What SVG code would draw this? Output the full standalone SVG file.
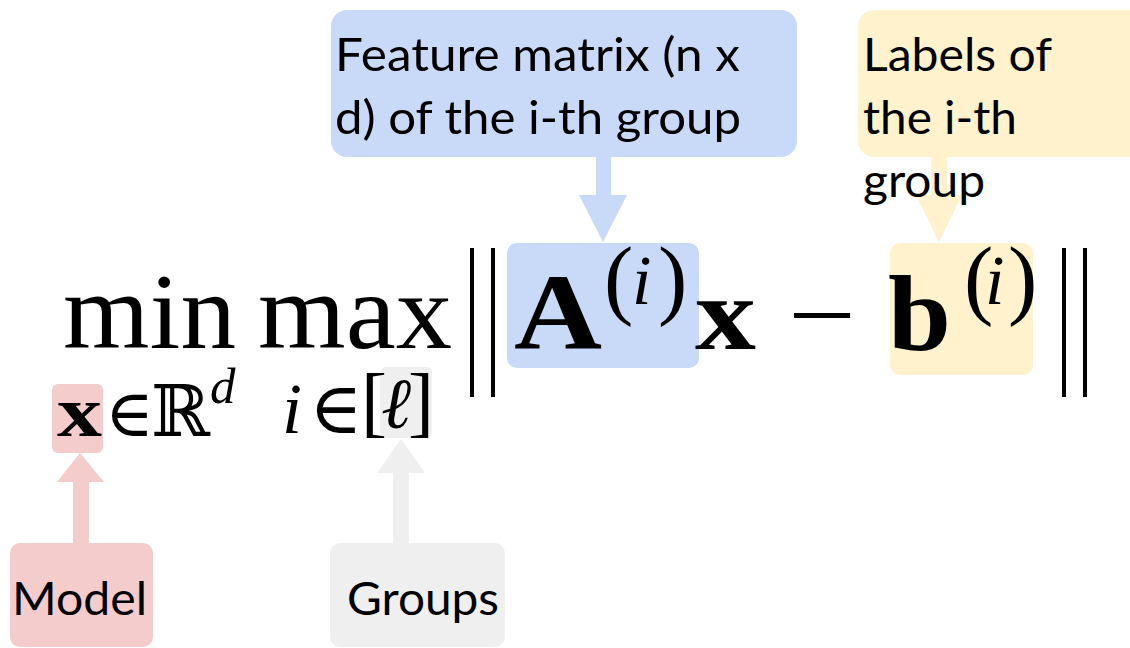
<svg xmlns="http://www.w3.org/2000/svg" width="1130" height="648" viewBox="0 0 1130 648">
<style>
.lbl{font-family:Lato,"Open Sans","Noto Sans",sans-serif;font-size:47px;fill:#000}
.m{font-family:"Liberation Serif","DejaVu Serif",serif;fill:#000}
.mb{font-weight:bold}
.mi{font-style:italic}
.bb{font-family:"DejaVu Serif","DejaVu Sans",serif}
.blue{fill:#c9daf8}.yellow{fill:#fff2cc}.red{fill:#f4cccc}.gray{fill:#efefef}
.bar{stroke:#000;stroke-width:4}
</style>
<rect width="1130" height="648" fill="#fff"/>
<g id="highlights">
<rect class="blue" x="507" y="243" width="192" height="125" rx="10"/>
<rect class="yellow" x="890" y="243" width="143" height="132" rx="10"/>
<rect class="red" x="52" y="384" width="51" height="69" rx="6"/>
<rect class="gray" x="380" y="367" width="52" height="71" rx="6"/>
</g>
<g id="connectors">
<polygon class="blue" points="596,156 611,156 611,195 627,195 603,242 579,195 596,195"/>
<polygon class="yellow" points="931,156 947,156 947,195 962,195 939,242 916,195 931,195"/>
<polygon class="red" points="73,544 89,544 89,482 104,482 80,453 57,482 73,482"/>
<polygon class="gray" points="393,544 409,544 409,473 425,473 401,439 377,473 393,473"/>
</g>
<g id="feature-matrix">
<rect class="blue" x="331" y="10" width="466" height="147" rx="16"/>
<text class="lbl" x="335" y="71" textLength="405" lengthAdjust="spacingAndGlyphs">Feature matrix (n x</text>
<text class="lbl" x="335" y="134" textLength="406" lengthAdjust="spacingAndGlyphs">d) of the i-th group</text>
</g>
<g id="labels">
<rect class="yellow" x="858" y="10" width="290" height="147" rx="16"/>
<text class="lbl" x="863" y="71" textLength="189" lengthAdjust="spacingAndGlyphs">Labels of</text>
<text class="lbl" x="863" y="134" textLength="154" lengthAdjust="spacingAndGlyphs">the i-th</text>
<text class="lbl" x="863" y="197" textLength="122" lengthAdjust="spacingAndGlyphs">group</text>
</g>
<g id="model">
<rect class="red" x="10" y="543" width="143" height="104" rx="10"/>
<text class="lbl" x="12" y="615" textLength="135" lengthAdjust="spacingAndGlyphs">Model</text>
</g>
<g id="groups">
<rect class="gray" x="330" y="543" width="175" height="104" rx="10"/>
<text class="lbl" x="347" y="615" textLength="152" lengthAdjust="spacingAndGlyphs">Groups</text>
</g>
<g id="formula">
<text class="m" x="63" y="348" font-size="107" textLength="173" lengthAdjust="spacingAndGlyphs">min</text>
<text class="m" x="258" y="348" font-size="107" textLength="194" lengthAdjust="spacingAndGlyphs">max</text>
<text class="m mb" x="57" y="436" font-size="72" textLength="45" lengthAdjust="spacingAndGlyphs">x</text>
<text class="m" y="436"><tspan class="bb" x="105" font-size="66">∈</tspan><tspan class="bb" x="151" font-size="71">ℝ</tspan><tspan class="mi" x="210" y="403" font-size="51">d</tspan></text>
<text class="m" y="433"><tspan class="mi" x="282" font-size="72">i</tspan><tspan class="bb" x="309" font-size="72">∈</tspan><tspan x="361" y="428" font-size="78">[</tspan><tspan class="mi" x="381" y="428" font-size="72">ℓ</tspan><tspan x="408" y="428" font-size="78">]</tspan></text>
<line class="bar" x1="472" y1="248" x2="472" y2="397"/>
<line class="bar" x1="493" y1="248" x2="493" y2="397"/>
<text class="m mb" x="514" y="349" font-size="109" textLength="88" lengthAdjust="spacingAndGlyphs">A</text>
<text class="m" y="308" font-size="88"><tspan x="604">(</tspan><tspan class="mi" x="632" y="304" font-size="70">i</tspan><tspan x="658" y="308">)</tspan></text>
<text class="m mb" x="695" y="349" font-size="103" textLength="61" lengthAdjust="spacingAndGlyphs">x</text>
<text class="m" x="788" y="349" font-size="100" textLength="68" lengthAdjust="spacingAndGlyphs">−</text>
<text class="m mb" x="888" y="350" font-size="108" textLength="63" lengthAdjust="spacingAndGlyphs">b</text>
<text class="m" y="308" font-size="88"><tspan x="964">(</tspan><tspan class="mi" x="985" y="304" font-size="70">i</tspan><tspan x="1008" y="308">)</tspan></text>
<line class="bar" x1="1064" y1="248" x2="1064" y2="397"/>
<line class="bar" x1="1085" y1="248" x2="1085" y2="397"/>
</g>
</svg>
